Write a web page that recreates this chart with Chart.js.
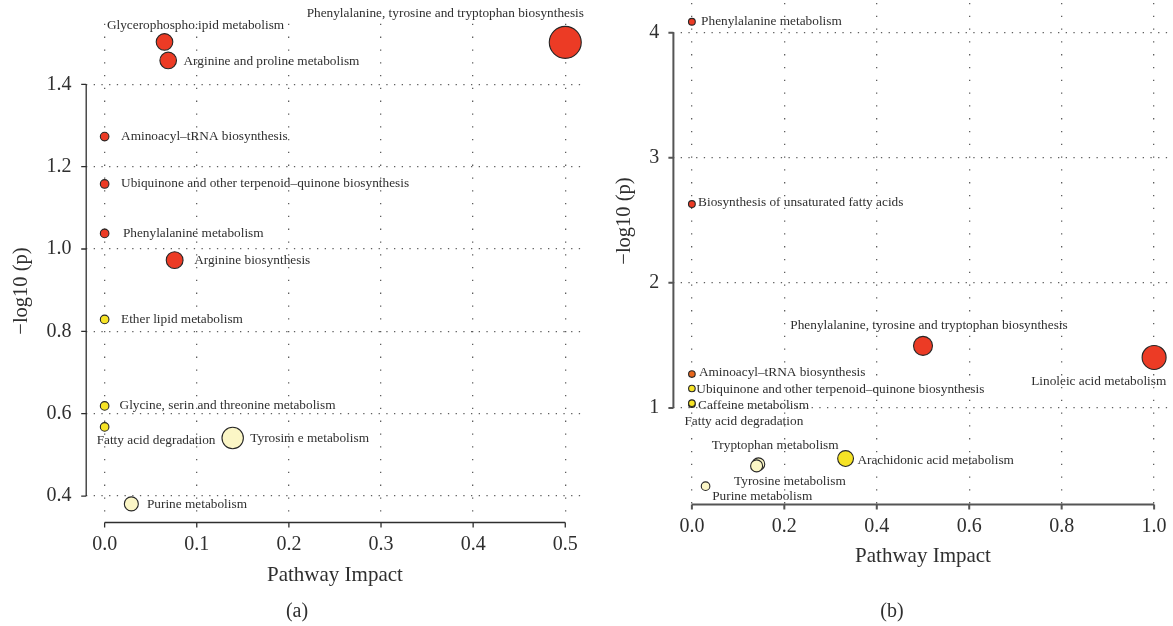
<!DOCTYPE html>
<html><head><meta charset="utf-8">
<script src="https://cdn.jsdelivr.net/npm/chart.js@4.4.0/dist/chart.umd.min.js"></script>
<style>
html,body{margin:0;padding:0;background:#fff;}
#wrap{position:relative;width:1173px;height:626px;overflow:hidden;background:#fff;}
#ca{position:absolute;left:0;top:0;width:590px;height:626px;}
#cb{position:absolute;left:590px;top:0;width:583px;height:626px;}
</style></head><body>
<div id="wrap"><canvas id="ca" width="590" height="626"></canvas><canvas id="cb" width="583" height="626"></canvas></div>
<script>
// ---------- Panel (a) data ----------
const pathwaysA = ["Phenylalanine, tyrosine and tryptophan biosynthesis", "Glycerophospho.ipid metabolism", "Arginine and proline metabolism", "Aminoacyl–tRNA biosynthesis", "Ubiquinone and other terpenoid–quinone biosynthesis", "Phenylalanine metabolism", "Arginine biosynthesis", "Ether lipid metabolism", "Glycine, serin and threonine metabolism", "Fatty acid degradation", "Tyrosim e metabolism", "Purine metabolism"];
const impactA = [0.5, 0.065, 0.069, 0, 0, 0, 0.076, 0, 0, 0, 0.139, 0.029];
const logpA = [1.502, 1.503, 1.458, 1.273, 1.158, 1.038, 0.973, 0.829, 0.619, 0.568, 0.541, 0.381];
const xTicksA = [0, 0.1, 0.2, 0.3, 0.4, 0.5];
const xTickLabelsA = ["0.0", "0.1", "0.2", "0.3", "0.4", "0.5"];
const yTicksA = [0.4, 0.6, 0.8, 1.0, 1.2, 1.4];
const yTickLabelsA = ["0.4", "0.6", "0.8", "1.0", "1.2", "1.4"];

// ---------- Panel (b) data ----------
const pathwaysB = ["Phenylalanine metabolism", "Biosynthesis of unsaturated fatty acids", "Phenylalanine, tyrosine and tryptophan biosynthesis", "Linoleic acid metabolism", "Aminoacyl–tRNA biosynthesis", "Ubiquinone and other terpenoid–quinone biosynthesis", "Fatty acid degradation", "Caffeine metabolism", "Tryptophan metabolism", "Tyrosine metabolism", "Arachidonic acid metabolism", "Purine metabolism"];
const impactB = [0, 0, 0.5, 1.0, 0, 0, 0, 0, 0.144, 0.140, 0.3325, 0.0296];
const logpB = [4.088, 2.63, 1.496, 1.403, 1.27, 1.155, 1.03, 1.038, 0.55, 0.536, 0.595, 0.374];
const xTicksB = [0, 0.2, 0.4, 0.6, 0.8, 1.0];
const xTickLabelsB = ["0.0", "0.2", "0.4", "0.6", "0.8", "1.0"];
const yTicksB = [1, 2, 3, 4];
const yTickLabelsB = ["1", "2", "3", "4"];

// ---------- styles (sizes, colours, label placement) ----------
const RED = '#EC3B25', ORANGE = '#E8671D', YEL = '#F6E325', PALE = '#FBF6C6';
const radiusA = [16, 8.3, 8.3, 4.3, 4.3, 4.3, 8.4, 4.3, 4.3, 4.3, 10.7, 7];
const colorA = [RED, RED, RED, RED, RED, RED, RED, YEL, YEL, YEL, PALE, PALE];
const labelPosA = [[18.7, -29, 'right'], [-57.6, -16, 'left'], [15.3, 0.7, 'left'], [16.4, 0, 'left'], [16.4, 0, 'left'], [18.3, 0, 'left'], [19.5, 0, 'left'], [16.4, 0, 'left'], [14.9, 0, 'left'], [-8, 13.3, 'left'], [17.6, 0.7, 'left'], [15.6, 1, 'left']];
const radiusB = [3.4, 3.4, 9.5, 12, 3.3, 3.3, 3.3, 3.3, 6.3, 6, 7.9, 4.3];
const colorB = [RED, RED, RED, RED, ORANGE, YEL, YEL, YEL, PALE, PALE, YEL, PALE];
const labelPosB = [[9.2, -0.7, 'left'], [6.2, -1.3, 'left'], [6, -20.7, 'center'], [12.2, 24.4, 'right'], [7, -2, 'left'], [4.4, 0.7, 'left'], [-7.5, 17.7, 'left'], [6.2, 2, 'left'], [16.7, -19, 'center'], [33.3, 16, 'center'], [11.8, 1.7, 'left'], [6.6, 10.7, 'left']];

const FONT = "'Liberation Serif', 'Times New Roman', serif";
const TXT = '#2f2f2f';

// pins the plot region to a fixed rectangle (R-style plot box)
function makeFix(t) {
  return {
    id: 'fixArea',
    afterLayout(chart) {
      const H = chart.height;
      chart.chartArea = {left: t.left, right: t.right, top: t.top, bottom: t.bottom, width: t.right - t.left, height: t.bottom - t.top};
      const {x, y} = chart.scales;
      Object.assign(x, {left: t.left, right: t.right, top: t.bottom, bottom: H, width: t.right - t.left, height: H - t.bottom});
      Object.assign(y, {left: 0, right: t.left, top: t.top, bottom: t.bottom, width: t.left, height: t.bottom - t.top});
      x.configure(); y.configure();
    }
  };
}

function makeDecor(cfg) {
  return {
    id: 'decor',
    afterDatasetsDraw(chart) {
      const {ctx, chartArea, scales: {x, y}} = chart;
      ctx.save();
      ctx.setLineDash([]);
      ctx.strokeStyle = cfg.axisColor; ctx.lineWidth = cfg.axisWidth;
      const xt = x.ticks.map(t => x.getPixelForValue(t.value));
      const yt = y.ticks.map(t => y.getPixelForValue(t.value));
      const xb = chartArea.bottom, yl = chartArea.left;
      ctx.beginPath();
      ctx.moveTo(xt[0], xb); ctx.lineTo(xt[xt.length - 1], xb);
      xt.forEach(p => { ctx.moveTo(p, xb); ctx.lineTo(p, xb + 5); });
      ctx.moveTo(yl, yt[0]); ctx.lineTo(yl, yt[yt.length - 1]);
      yt.forEach(p => { ctx.moveTo(yl, p); ctx.lineTo(yl - 5, p); });
      ctx.stroke();
      // point labels
      const meta = chart.getDatasetMeta(0);
      ctx.font = '13.3px ' + FONT; ctx.fillStyle = TXT; ctx.textBaseline = 'middle';
      meta.data.forEach((pt, i) => {
        const lp = cfg.labelPos[i];
        ctx.textAlign = lp[2];
        ctx.fillText(cfg.names[i], pt.x + lp[0], pt.y + lp[1]);
      });
      // y title
      ctx.font = '20.5px ' + FONT; ctx.textAlign = 'center';
      ctx.translate(cfg.yTitlePos[0], cfg.yTitlePos[1]);
      ctx.rotate(-Math.PI / 2);
      ctx.fillText('−log10 (p)', 0, 0);
      ctx.restore();
      ctx.save();
      ctx.font = '20px ' + FONT; ctx.fillStyle = TXT; ctx.textAlign = 'center'; ctx.textBaseline = 'middle';
      ctx.fillText(cfg.caption, cfg.captionPos[0], cfg.captionPos[1]);
      ctx.restore();
    }
  };
}

function makeChart(id, d) {
  return new Chart(document.getElementById(id), {
    type: 'scatter',
    data: {
      datasets: [{
        data: d.x.map((v, i) => ({x: v, y: d.y[i]})),
        pointRadius: d.radius,
        pointHoverRadius: d.radius,
        pointBackgroundColor: d.colors,
        pointBorderColor: '#262626',
        pointBorderWidth: 1.1,
        clip: false
      }]
    },
    options: {
      responsive: false, animation: false, events: [],
      layout: {padding: 0, autoPadding: false},
      plugins: {legend: {display: false}, tooltip: {enabled: false}},
      scales: {
        x: {
          type: 'linear', min: d.xMin, max: d.xMax,
          afterBuildTicks: s => { s.ticks = d.xTicks.map(v => ({value: v})); },
          ticks: {callback: (v, i) => d.xTickLabels[i], font: {family: FONT, size: 20}, color: TXT, padding: 10.5, maxRotation: 0, autoSkip: false},
          grid: {color: '#5e5e5e', lineWidth: 1.3, drawTicks: false},
          border: {display: false, dash: [1.3, 11.5]},
          title: {display: true, text: 'Pathway Impact', font: {family: FONT, size: 21}, color: TXT, padding: {top: 0, bottom: d.xTitlePad}}
        },
        y: {
          type: 'linear', min: d.yMin, max: d.yMax,
          afterBuildTicks: s => { s.ticks = d.yTicks.map(v => ({value: v})); },
          ticks: {callback: (v, i) => d.yTickLabels[i], font: {family: FONT, size: 20}, color: TXT, padding: d.yTickPad, autoSkip: false},
          grid: {color: '#5e5e5e', lineWidth: 1.3, drawTicks: false},
          border: {display: false, dash: [1.3, 6.4]},
          title: {display: false}
        }
      }
    },
    plugins: [makeFix(d.area), makeDecor(d.decor)]
  });
}

makeChart('ca', {
  x: impactA, y: logpA, radius: radiusA, colors: colorA,
  xTicks: xTicksA, xTickLabels: xTickLabelsA, yTicks: yTicksA, yTickLabels: yTickLabelsA,
  xMin: -0.02, xMax: 0.52, yMin: 0.3358, yMax: 1.547,
  area: {left: 86.2, right: 583.7, top: 23.8, bottom: 522.5},
  xTitlePad: 38.4, yTickPad: 14.6,
  decor: {names: pathwaysA, labelPos: labelPosA, axisColor: '#2e2e2e', axisWidth: 1.3, yTitlePos: [22, 291], caption: '(a)', captionPos: [297, 612]}
});

makeChart('cb', {
  x: impactB, y: logpB, radius: radiusB, colors: colorB,
  xTicks: xTicksB, xTickLabels: xTickLabelsB, yTicks: yTicksB, yTickLabels: yTickLabelsB,
  xMin: -0.04, xMax: 1.04, yMin: 0.2274, yMax: 4.2386,
  area: {left: 83.4, right: 582.6, top: 2.9, bottom: 504.5},
  xTitlePad: 57.4, yTickPad: 14.2,
  decor: {names: pathwaysB, labelPos: labelPosB, axisColor: '#555', axisWidth: 2, yTitlePos: [35, 221], caption: '(b)', captionPos: [302, 612]}
});
</script>
</body></html>
